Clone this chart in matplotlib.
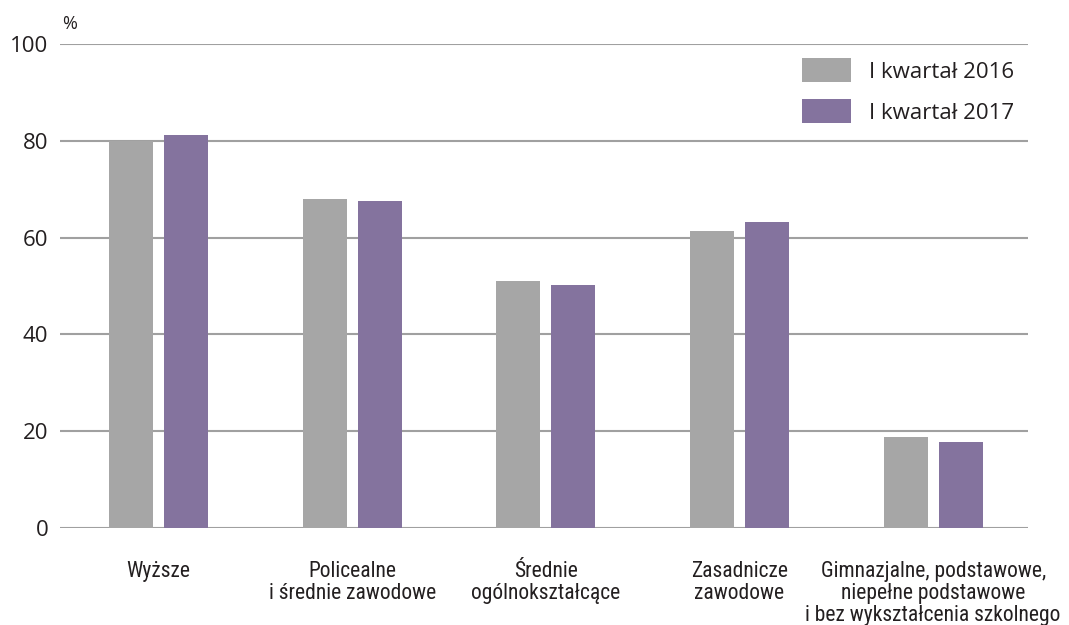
#Employment rate by education level, Q1 2016 vs Q1 2017
import numpy as np
import matplotlib.pyplot as plt

#categories shown under the groups
categories = ["Wyższe",
              "Policealne\ni średnie zawodowe",
              "Średnie\nogólnokształcące",
              "Zasadnicze\nzawodowe",
              "Gimnazjalne, podstawowe,\nniepełne podstawowe\ni bez wykształcenia szkolnego"]

#values, in %
q1_2016 = [80.0, 68.0, 51.0, 61.4, 18.9]
q1_2017 = [81.3, 67.6, 50.2, 63.2, 17.7]

series_names = ["I kwartał 2016", "I kwartał 2017"]
yticks = [0, 20, 40, 60, 80, 100]

text_col = "#231f20"
plt.rcParams['font.family'] = ['Open Sans', 'DejaVu Sans']

fig = plt.figure(figsize=(10.69, 6.25), dpi=100)
ax = fig.add_axes([60/1069, 1 - 528/625, 968/1069, 484/625])

x = np.arange(len(categories))
w = 0.227
off = 0.142

ax.bar(x - off, q1_2016, w, color="#a6a6a6", label=series_names[0], zorder=3)
ax.bar(x + off, q1_2017, w, color="#84739e", label=series_names[1], zorder=3)

ax.set_xlim(-0.51, 4.49)
ax.set_ylim(0, 100)
ax.set_yticks(yticks)
ax.set_yticklabels([str(t) for t in yticks], fontsize=16, color=text_col)
ax.yaxis.grid(True, color="#a0a0a0", linewidth=1.5, zorder=0)
ax.tick_params(axis='y', length=0, pad=8.5)
ax.tick_params(axis='x', length=0, pad=24)
ax.set_xticks(x)
ax.set_xticklabels(categories, fontsize=15.5, color=text_col, linespacing=1.05,
                   family=['Roboto Condensed', 'Roboto', 'DejaVu Sans'])
for s in ax.spines.values():
    s.set_visible(False)

fig.text(62/1069, 1 - 24/625, "%", fontsize=13, color=text_col, va='center')

leg = ax.legend(loc='upper right', bbox_to_anchor=(1014/1069, 1 - 58/625),
                bbox_transform=fig.transFigure, frameon=False,
                borderpad=0, borderaxespad=0,
                fontsize=16, handlelength=2.2, handleheight=1.3,
                handletextpad=0.8, labelspacing=0.75)
for t in leg.get_texts():
    t.set_color(text_col)

fig.savefig("out.png", dpi=100)
